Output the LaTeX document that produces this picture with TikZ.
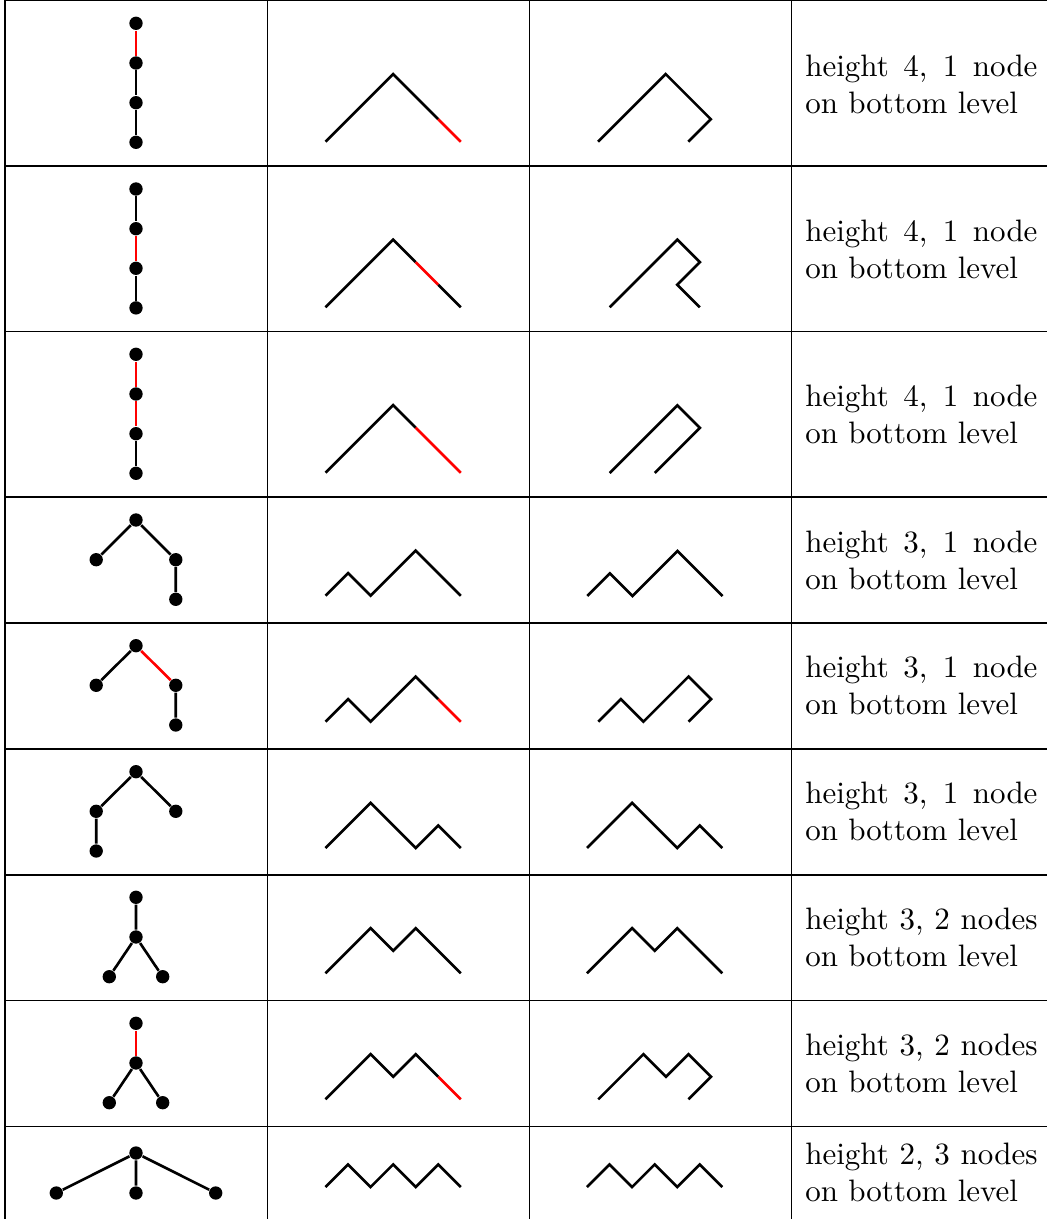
\documentclass[tikz,border=0pt]{standalone}
\begin{document}
\def\dd{22.55}
\begin{tikzpicture}[x=0.3226pt,y=-0.3226pt,
  rule/.style={line width=0.4pt},
  dyck/.style={line width=0.85pt},
  redseg/.style={line width=0.85pt,red},
  tedge/.style={line width=0.85pt},
  dot/.style={circle,fill,inner sep=0pt,minimum size=4.3pt},
  caption/.style={anchor=north west,inner sep=0pt,text width=74.9pt,align=justify,font=\fontsize{10}{11.84}\selectfont}]
\useasboundingbox (0,0) rectangle (1047,1219);
% table rules
\foreach \y in {0.5,166,331.5,497,623,749,875,1000.5,1126.5}
  \draw[rule] (5,\y) -- (1047,\y);
\foreach \x in {5,267.5,529.5,791.3}
  \draw[rule] (\x,0.5) -- (\x,1219);

% ---------- column 1: trees ----------
% row 1
\node[dot] (a1) at (136,23.3) {};
\node[dot] (a2) at (136,63) {};
\node[dot] (a3) at (136,102.7) {};
\node[dot] (a4) at (136,142.3) {};
\draw[tedge,red] (a1) -- (a2);
\draw[tedge] (a2) -- (a3) (a3) -- (a4);
% row 2
\node[dot] (b1) at (136,189) {};
\node[dot] (b2) at (136,228.7) {};
\node[dot] (b3) at (136,268.3) {};
\node[dot] (b4) at (136,307.9) {};
\draw[tedge] (b1) -- (b2) (b3) -- (b4);
\draw[tedge,red] (b2) -- (b3);
% row 3
\node[dot] (c1) at (136,354.3) {};
\node[dot] (c2) at (136,394) {};
\node[dot] (c3) at (136,433.7) {};
\node[dot] (c4) at (136,473.3) {};
\draw[tedge,red] (c1) -- (c2) (c2) -- (c3);
\draw[tedge] (c3) -- (c4);
% row 4
\node[dot] (d1) at (136,520) {};
\node[dot] (d2) at (96.2,559.7) {};
\node[dot] (d3) at (175.8,559.7) {};
\node[dot] (d4) at (175.8,599.3) {};
\draw[tedge] (d1) -- (d2) (d1) -- (d3) (d3) -- (d4);
% row 5
\node[dot] (e1) at (136,645.7) {};
\node[dot] (e2) at (96.2,685.3) {};
\node[dot] (e3) at (175.8,685.3) {};
\node[dot] (e4) at (175.8,725) {};
\draw[tedge] (e1) -- (e2) (e3) -- (e4);
\draw[tedge,red] (e1) -- (e3);
% row 6
\node[dot] (f1) at (136,771.7) {};
\node[dot] (f2) at (96.2,811.3) {};
\node[dot] (f3) at (175.8,811.3) {};
\node[dot] (f4) at (96.2,851) {};
\draw[tedge] (f1) -- (f2) (f1) -- (f3) (f2) -- (f4);
% row 7
\node[dot] (g1) at (136,897.3) {};
\node[dot] (g2) at (136,937) {};
\node[dot] (g3) at (109.3,976.7) {};
\node[dot] (g4) at (162.7,976.7) {};
\draw[tedge] (g1) -- (g2) (g2) -- (g3) (g2) -- (g4);
% row 8
\node[dot] (h1) at (136,1023.3) {};
\node[dot] (h2) at (136,1063) {};
\node[dot] (h3) at (109.3,1102.7) {};
\node[dot] (h4) at (162.7,1102.7) {};
\draw[tedge,red] (h1) -- (h2);
\draw[tedge] (h2) -- (h3) (h2) -- (h4);
% row 9
\node[dot] (i1) at (136,1153) {};
\node[dot] (i2) at (56.3,1193) {};
\node[dot] (i3) at (136,1193) {};
\node[dot] (i4) at (215.7,1193) {};
\draw[tedge] (i1) -- (i2) (i1) -- (i3) (i1) -- (i4);

% ---------- columns 2 and 3: paths ----------
% row 1
\draw[dyck] (325.5,141.7) -- ++(\dd,-\dd) -- ++(\dd,-\dd) -- ++(\dd,-\dd) -- ++(\dd,\dd) -- ++(\dd,\dd) coordinate (p1);
\draw[redseg] (p1) -- ++(\dd,\dd);
\draw[dyck] (598,141.7) -- ++(\dd,-\dd) -- ++(\dd,-\dd) -- ++(\dd,-\dd) -- ++(\dd,\dd) -- ++(\dd,\dd) -- ++(-\dd,\dd);
% row 2
\draw[dyck] (325.5,307.3) -- ++(\dd,-\dd) -- ++(\dd,-\dd) -- ++(\dd,-\dd) -- ++(\dd,\dd) coordinate (p2a);
\draw[redseg] (p2a) -- ++(\dd,\dd) coordinate (p2b);
\draw[dyck] (p2b) -- ++(\dd,\dd);
\draw[dyck] (609.7,307.3) -- ++(\dd,-\dd) -- ++(\dd,-\dd) -- ++(\dd,-\dd) -- ++(\dd,\dd) -- ++(-\dd,\dd) -- ++(\dd,\dd);
% row 3
\draw[dyck] (325.5,472.7) -- ++(\dd,-\dd) -- ++(\dd,-\dd) -- ++(\dd,-\dd) -- ++(\dd,\dd) coordinate (p3);
\draw[redseg] (p3) -- ++(\dd,\dd) -- ++(\dd,\dd);
\draw[dyck] (609.7,473) -- ++(\dd,-\dd) -- ++(\dd,-\dd) -- ++(\dd,-\dd) -- ++(\dd,\dd) -- ++(-\dd,\dd) -- ++(-\dd,\dd);
% row 4
\draw[dyck] (325.5,595.7) -- ++(\dd,-\dd) -- ++(\dd,\dd) -- ++(\dd,-\dd) -- ++(\dd,-\dd) -- ++(\dd,\dd) -- ++(\dd,\dd);
\draw[dyck] (587.3,596) -- ++(\dd,-\dd) -- ++(\dd,\dd) -- ++(\dd,-\dd) -- ++(\dd,-\dd) -- ++(\dd,\dd) -- ++(\dd,\dd);
% row 5
\draw[dyck] (325.5,721.7) -- ++(\dd,-\dd) -- ++(\dd,\dd) -- ++(\dd,-\dd) -- ++(\dd,-\dd) -- ++(\dd,\dd) coordinate (p5);
\draw[redseg] (p5) -- ++(\dd,\dd);
\draw[dyck] (598.3,721.7) -- ++(\dd,-\dd) -- ++(\dd,\dd) -- ++(\dd,-\dd) -- ++(\dd,-\dd) -- ++(\dd,\dd) -- ++(-\dd,\dd);
% row 6
\draw[dyck] (325.5,848) -- ++(\dd,-\dd) -- ++(\dd,-\dd) -- ++(\dd,\dd) -- ++(\dd,\dd) -- ++(\dd,-\dd) -- ++(\dd,\dd);
\draw[dyck] (587,848) -- ++(\dd,-\dd) -- ++(\dd,-\dd) -- ++(\dd,\dd) -- ++(\dd,\dd) -- ++(\dd,-\dd) -- ++(\dd,\dd);
% row 7
\draw[dyck] (325.5,973.3) -- ++(\dd,-\dd) -- ++(\dd,-\dd) -- ++(\dd,\dd) -- ++(\dd,-\dd) -- ++(\dd,\dd) -- ++(\dd,\dd);
\draw[dyck] (587,973.3) -- ++(\dd,-\dd) -- ++(\dd,-\dd) -- ++(\dd,\dd) -- ++(\dd,-\dd) -- ++(\dd,\dd) -- ++(\dd,\dd);
% row 8
\draw[dyck] (325.5,1099.3) -- ++(\dd,-\dd) -- ++(\dd,-\dd) -- ++(\dd,\dd) -- ++(\dd,-\dd) -- ++(\dd,\dd) coordinate (p8);
\draw[redseg] (p8) -- ++(\dd,\dd);
\draw[dyck] (598.3,1099.3) -- ++(\dd,-\dd) -- ++(\dd,-\dd) -- ++(\dd,\dd) -- ++(\dd,-\dd) -- ++(\dd,\dd) -- ++(-\dd,\dd);
% row 9
\draw[dyck] (325.5,1187) -- ++(\dd,-\dd) -- ++(\dd,\dd) -- ++(\dd,-\dd) -- ++(\dd,\dd) -- ++(\dd,-\dd) -- ++(\dd,\dd);
\draw[dyck] (587,1187) -- ++(\dd,-\dd) -- ++(\dd,\dd) -- ++(\dd,-\dd) -- ++(\dd,\dd) -- ++(\dd,-\dd) -- ++(\dd,\dd);

% ---------- column 4: captions ----------
\node[caption] (t1) at (804.7,54.5) {height 4, 1 node on bottom level};
\node[caption] (t2) at (804.7,219.2) {height 4, 1 node on bottom level};
\node[caption] (t3) at (804.7,384.5) {height 4, 1 node on bottom level};
\node[caption] (t4) at (804.7,530.5) {height 3, 1 node on bottom level};
\node[caption] (t5) at (804.7,655.8) {height 3, 1 node on bottom level};
\node[caption] (t6) at (804.7,781.8) {height 3, 1 node on bottom level};
\node[caption] (t7) at (804.7,907.8) {height 3, 2 nodes on bottom level};
\node[caption] (t8) at (804.7,1033.3) {height 3, 2 nodes on bottom level};
\node[caption] (t9) at (804.7,1142.5) {height 2, 3 nodes on bottom level};
\end{tikzpicture}
\end{document}
